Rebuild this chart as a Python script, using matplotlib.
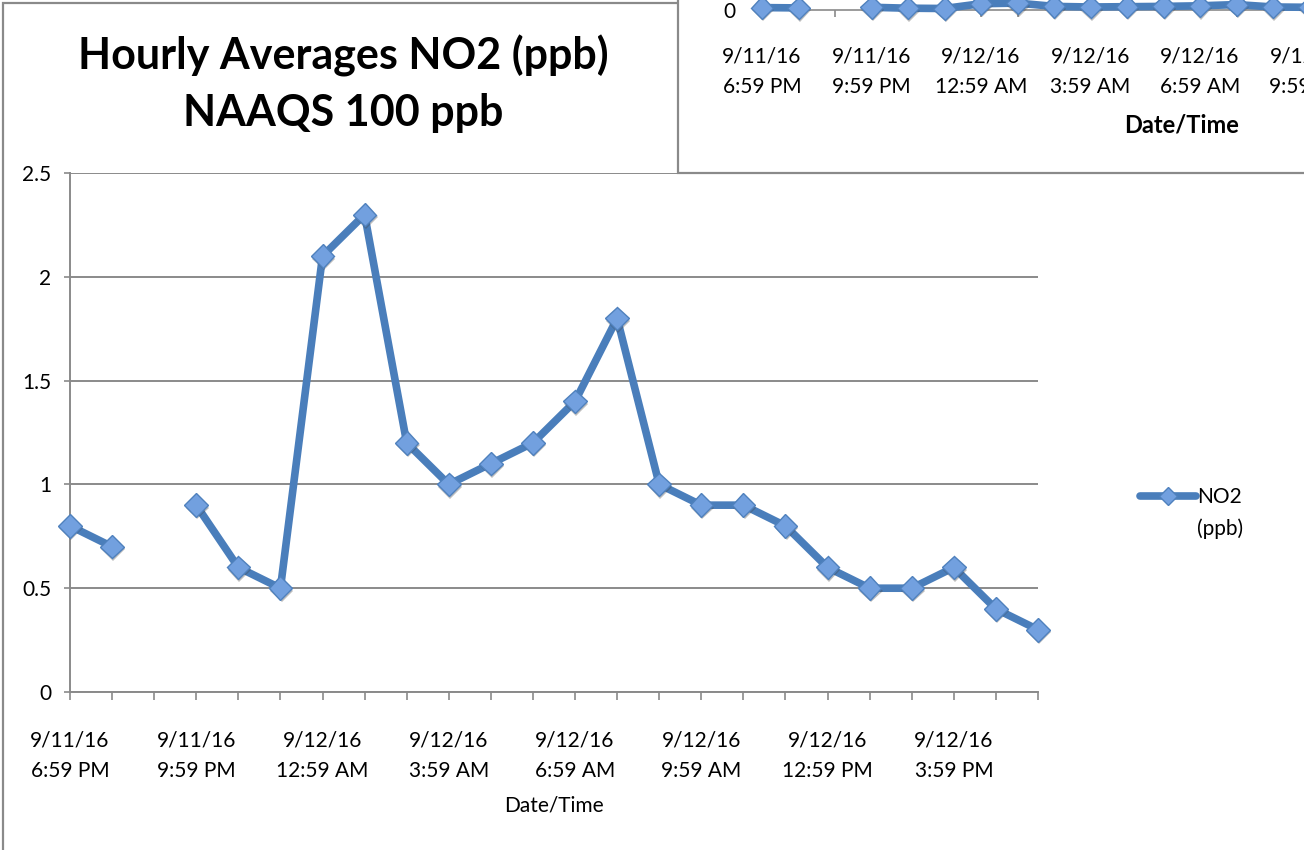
import numpy as np
import matplotlib
matplotlib.use("Agg")
import matplotlib.pyplot as plt
from matplotlib.patches import Rectangle
from matplotlib.lines import Line2D
import matplotlib.patheffects as pe

# ---------------- data ----------------
categories = [
    "9/11/16\n6:59 PM", "9/11/16\n7:59 PM", "9/11/16\n8:59 PM", "9/11/16\n9:59 PM",
    "9/11/16\n10:59 PM", "9/11/16\n11:59 PM", "9/12/16\n12:59 AM", "9/12/16\n1:59 AM",
    "9/12/16\n2:59 AM", "9/12/16\n3:59 AM", "9/12/16\n4:59 AM", "9/12/16\n5:59 AM",
    "9/12/16\n6:59 AM", "9/12/16\n7:59 AM", "9/12/16\n8:59 AM", "9/12/16\n9:59 AM",
    "9/12/16\n10:59 AM", "9/12/16\n11:59 AM", "9/12/16\n12:59 PM", "9/12/16\n1:59 PM",
    "9/12/16\n2:59 PM", "9/12/16\n3:59 PM", "9/12/16\n4:59 PM", "9/12/16\n5:59 PM",
]
no2_ppb = [0.8, 0.7, np.nan, 0.9, 0.6, 0.5, 2.1, 2.3, 1.2, 1.0, 1.1, 1.2,
           1.4, 1.8, 1.0, 0.9, 0.9, 0.8, 0.6, 0.5, 0.5, 0.6, 0.4, 0.3]
y_ticks = [0, 0.5, 1, 1.5, 2, 2.5]
y_tick_labels = ["0", "0.5", "1", "1.5", "2", "2.5"]
label_step = 3
series_name = "NO2\n(ppb)"
title = "Hourly Averages NO2 (ppb)\nNAAQS 100 ppb"
x_title = "Date/Time"

# ---------------- style ----------------
FONT = "Lato"
plt.rcParams["font.family"] = [FONT, "DejaVu Sans"]
LINE_C = "#4a7ebb"
FACE_C = "#72a0df"
EDGE_C = "#4f81bd"
GRID_C = "#8a8a8a"
W, H = 1304, 850
fig = plt.figure(figsize=(W / 100, H / 100), dpi=100)


def fx(px):
    return px / W


def fy(py):
    return 1 - py / H


x = np.arange(len(categories))
shown_labels = [c if i % label_step == 0 else "" for i, c in enumerate(categories)]

# outer frame of the main chart (left/top visible)
fig.add_artist(Rectangle((fx(3), fy(900)), fx(1400), fy(3) - fy(900), transform=fig.transFigure,
                         fill=False, edgecolor=GRID_C, lw=1.6, zorder=-1))

# ---------------- main chart ----------------
ax = fig.add_axes([fx(70), fy(692), fx(1038) - fx(70), fy(173) - fy(692)])
ax.set_facecolor("none")
ax.set_xlim(0, len(categories) - 1)
ax.set_ylim(0, 2.5)
for s in ["top", "right"]:
    ax.spines[s].set_visible(False)
for s in ["left", "bottom"]:
    ax.spines[s].set_color(GRID_C)
    ax.spines[s].set_linewidth(1.4)
ax.set_yticks(y_ticks)
ax.set_yticklabels(y_tick_labels)
ax.set_xticks(x)
ax.set_xticklabels(shown_labels, linespacing=1.62)
ax.yaxis.grid(True, color=GRID_C, lw=1.4)
ax.set_axisbelow(True)
ax.tick_params(axis="x", length=6, width=1.2, color=GRID_C, pad=22, labelsize=15)
ax.tick_params(axis="y", length=4.5, width=1.2, color=GRID_C, pad=9, labelsize=15)

ax.plot(x, no2_ppb, color=LINE_C, lw=5.5, solid_joinstyle="round",
        solid_capstyle="round", zorder=3, clip_on=False, label=series_name)
ax.plot(x, no2_ppb, ls="none", marker="D", ms=12, mfc=FACE_C, mec=EDGE_C, mew=1.0,
        zorder=4, clip_on=False,
        path_effects=[pe.SimplePatchShadow(offset=(0.8, -1.8), shadow_rgbFace="#444444", alpha=0.35),
                      pe.Normal()])

ax.set_xlabel(x_title, fontsize=15)
ax.xaxis.set_label_coords(0.5, (692 - 805) / (692 - 173))
ax.xaxis.label.set_va("center")

# legend
handle = Line2D([0], [0], color=LINE_C, lw=5.5, solid_capstyle="round",
                marker="D", ms=9, mfc=FACE_C, mec=EDGE_C, mew=1.0)
leg = ax.legend([handle], [series_name.split("\n")[0]], loc="center left",
                bbox_to_anchor=(fx(1140), fy(497)), bbox_transform=fig.transFigure,
                frameon=False, fontsize=15, handlelength=2.7, handletextpad=0.05,
                borderpad=0, borderaxespad=0)

# title
fig.text(fx(343), fy(84), title, ha="center", va="center", fontsize=31,
         fontweight="bold", linespacing=1.5)

# ---------------- overlapping chart (top right) ----------------
fig.add_artist(Rectangle((fx(678), fy(173)), fx(900), fy(-200) - fy(173), transform=fig.transFigure,
                         facecolor="white", edgecolor=GRID_C, lw=1.6, zorder=0.5))
px_per_unit = 3.0
ax2_h = 120 * px_per_unit
ax2 = fig.add_axes([fx(762), fy(10), fx(762 + 36.5 * 23) - fx(762), ax2_h / H], zorder=1)
ax2.set_facecolor("none")
ax2.set_xlim(0, len(categories) - 1)
ax2.set_ylim(0, 120)
for s in ["top", "right"]:
    ax2.spines[s].set_visible(False)
for s in ["left", "bottom"]:
    ax2.spines[s].set_color(GRID_C)
    ax2.spines[s].set_linewidth(1.2)
ax2.set_yticks([0])
ax2.set_yticklabels(["0"])
ax2.set_xticks(x)
ax2.set_xticklabels(shown_labels, linespacing=1.68)
ax2.tick_params(axis="x", length=5, width=1.2, color=GRID_C, pad=21, labelsize=15)
ax2.tick_params(axis="y", length=4, width=1.2, color=GRID_C, pad=15, labelsize=15)
ax2.plot(x, no2_ppb, color=LINE_C, lw=5.5, solid_joinstyle="round",
         solid_capstyle="round", zorder=3, clip_on=False)
ax2.plot(x, no2_ppb, ls="none", marker="D", ms=11.5, mfc=FACE_C, mec=EDGE_C, mew=1.0,
         zorder=4, clip_on=False,
         path_effects=[pe.SimplePatchShadow(offset=(0.8, -1.8), shadow_rgbFace="#444444", alpha=0.35),
                       pe.Normal()])
ax2.set_xlabel(x_title, fontsize=17, fontweight="bold")
ax2.xaxis.set_label_coords(0.5, -(125 - 10) / ax2_h)
ax2.xaxis.label.set_va("center")

# second line of legend label, aligned under the first
fig.canvas.draw()
tb = leg.get_texts()[0].get_window_extent()
fig.text(tb.x0 / W, (tb.y0 + tb.y1) / 2 / H - 32 / H, series_name.split("\n")[1],
         ha="left", va="center", fontsize=15)

fig.savefig("out.png", dpi=100)
